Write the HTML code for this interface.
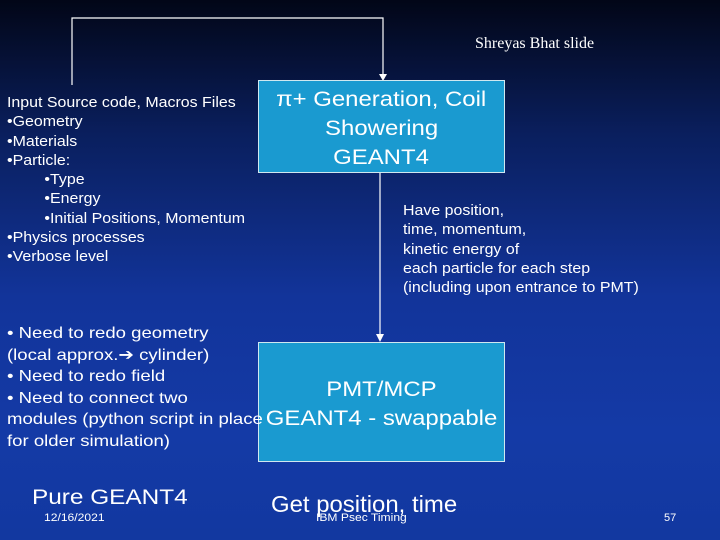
<!DOCTYPE html>
<html><head><style>
body{margin:0}
#s{position:relative;width:720px;height:540px;overflow:hidden;background:linear-gradient(180deg,#020617 0%,#0a1f5e 25%,#12349a 55%,#143aa6 80%,#1238a0 100%);font-family:"Liberation Sans",sans-serif;color:#fff}
.a{position:absolute;white-space:nowrap;transform-origin:0 0}
.box{position:absolute;background:#1a9ad0;border:1px solid #d0e8f0;box-sizing:border-box;text-align:center;font-size:21px;line-height:29px}
.box span{display:inline-block;transform:scaleX(1.14);white-space:nowrap}
.s14{font-size:14.5px;line-height:19.3px;transform:scaleX(1.1)}
.in{display:inline-block;margin-left:34px}
</style></head><body><div id="s">
<svg width="720" height="540" style="position:absolute;left:0;top:0">
<path d="M72 85 V18 H383 V76" stroke="#fff" stroke-width="1.2" fill="none"/>
<polygon points="379,74 387,74 383,81" fill="#fff"/>
<path d="M380 173 V336" stroke="#fff" stroke-width="1.2" fill="none"/>
<polygon points="376,334 384,334 380,342" fill="#fff"/>
</svg>
<div class="a" style="left:475px;top:35px;font-family:'Liberation Serif',serif;font-size:16px">Shreyas Bhat slide</div>
<div class="box" style="left:258px;top:80px;width:247px;height:93px;padding-top:4px"><span>π+ Generation, Coil</span><br><span>Showering</span><br><span>GEANT4</span></div>
<div class="box" style="left:258px;top:342px;width:247px;height:120px;padding-top:32px"><span>PMT/MCP</span><br><span>GEANT4 - swappable</span></div>
<div class="a s14" style="left:7px;top:94px">Input Source code, Macros Files<br>•Geometry<br>•Materials<br>•Particle:<br><span class="in">•Type</span><br><span class="in">•Energy</span><br><span class="in">•Initial Positions, Momentum</span><br>•Physics processes<br>•Verbose level</div>
<div class="a s14" style="left:403px;top:202px">Have position,<br>time, momentum,<br>kinetic energy of<br>each particle for each step<br>(including upon entrance to PMT)</div>
<div class="a" style="left:7px;top:323px;font-size:16px;line-height:21.6px;transform:scaleX(1.16)">• Need to redo geometry<br>(local approx.➔ cylinder)<br>• Need to redo field<br>• Need to connect two<br>modules (python script in place<br>for older simulation)</div>
<div class="a" style="left:32px;top:486px;font-size:21px;transform:scaleX(1.16)">Pure GEANT4</div>
<div class="a" style="left:271px;top:491px;font-size:23px;transform:scaleX(1.04)">Get position, time</div>
<div class="a" style="left:44px;top:512px;font-size:11px;transform:scaleX(1.1)">12/16/2021</div>
<div class="a" style="left:316px;top:512px;font-size:11px;transform:scaleX(1.1)">IBM Psec Timing</div>
<div class="a" style="left:664px;top:512px;font-size:11px">57</div>
</div></body></html>
